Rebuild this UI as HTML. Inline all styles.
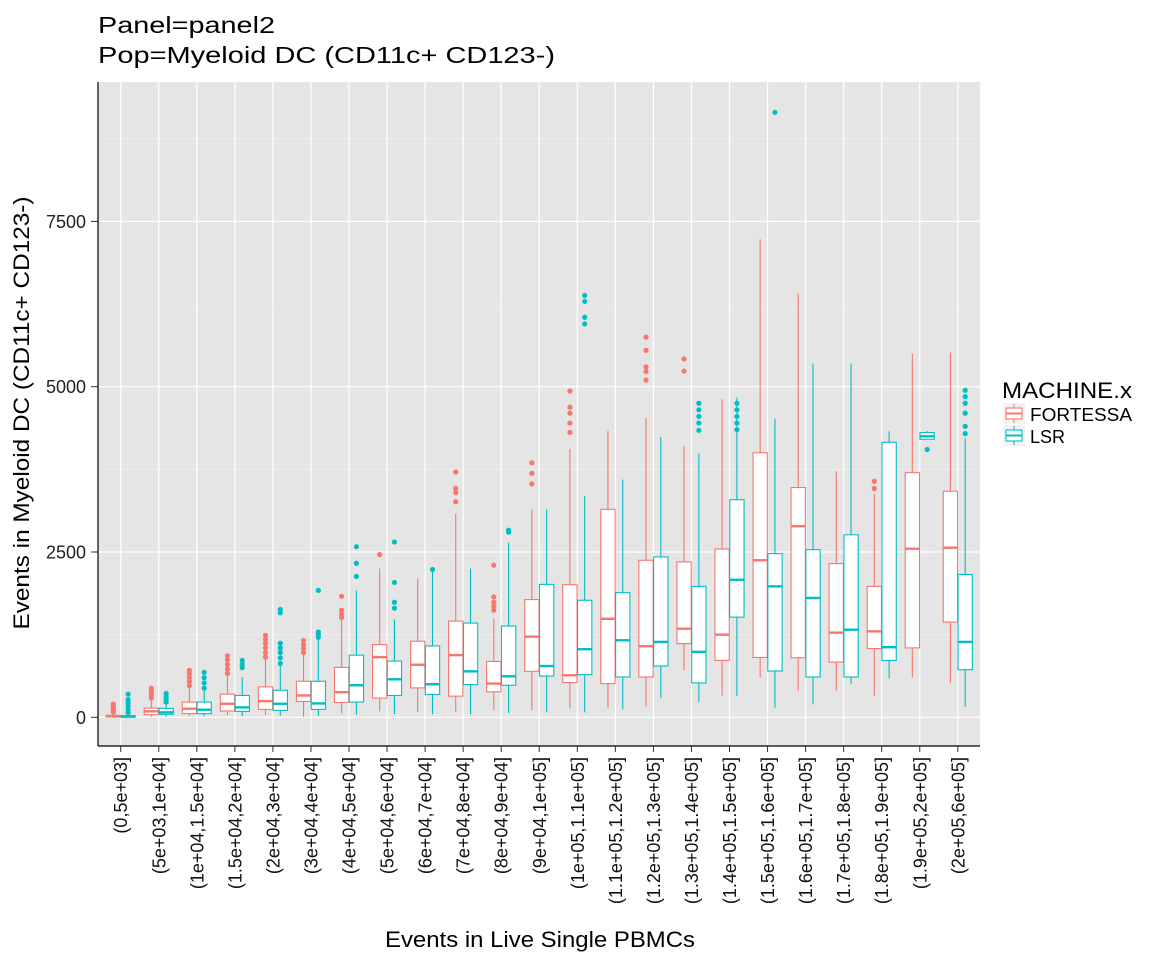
<!DOCTYPE html>
<html><head><meta charset="utf-8"><style>
body{margin:0;background:#fff;}
svg text{font-family:"Liberation Sans",Arial,sans-serif;}
</style></head><body>
<svg id="chart" width="1152" height="960" xmlns="http://www.w3.org/2000/svg">
<text x="98" y="33" font-size="23" textLength="177" lengthAdjust="spacingAndGlyphs" fill="#000">Panel=panel2</text>
<text x="98" y="63" font-size="23" textLength="457" lengthAdjust="spacingAndGlyphs" fill="#000">Pop=Myeloid DC (CD11c+ CD123-)</text>
<rect x="98" y="82" width="882" height="664" fill="#e5e5e5"/>
<g id="grid"></g><g id="marks"></g><g id="axes"></g>
<text x="540" y="947" font-size="22" text-anchor="middle" textLength="310" lengthAdjust="spacingAndGlyphs" fill="#000">Events in Live Single PBMCs</text>
<text transform="translate(29,413) rotate(-90)" font-size="22" text-anchor="middle" textLength="433" lengthAdjust="spacingAndGlyphs" fill="#000">Events in Myeloid DC (CD11c+ CD123-)</text>
<g>
<text x="1002" y="398" font-size="22" textLength="130" lengthAdjust="spacingAndGlyphs" fill="#000">MACHINE.x</text>
<g>
<rect x="1003" y="403" width="22" height="21" fill="#f2f2f2"/>
<line x1="1014" y1="404" x2="1014" y2="423" stroke="#F8766D" stroke-width="1.1"/>
<rect x="1006" y="408" width="16" height="11" fill="#fff" stroke="#F8766D" stroke-width="1.1"/>
<line x1="1006" y1="413.5" x2="1022" y2="413.5" stroke="#F8766D" stroke-width="2"/>
<text x="1030" y="421" font-size="18" textLength="102" lengthAdjust="spacingAndGlyphs" fill="#000">FORTESSA</text></g>
<g>
<rect x="1003" y="425" width="22" height="21" fill="#f2f2f2"/>
<line x1="1014" y1="426" x2="1014" y2="445" stroke="#00BFC4" stroke-width="1.1"/>
<rect x="1006" y="430" width="16" height="11" fill="#fff" stroke="#00BFC4" stroke-width="1.1"/>
<line x1="1006" y1="435.5" x2="1022" y2="435.5" stroke="#00BFC4" stroke-width="2"/>
<text x="1030" y="443" font-size="18" fill="#000">LSR</text></g>
</g>
</svg>
<script>
const categories=["(0,5e+03]","(5e+03,1e+04]","(1e+04,1.5e+04]","(1.5e+04,2e+04]","(2e+04,3e+04]","(3e+04,4e+04]","(4e+04,5e+04]","(5e+04,6e+04]","(6e+04,7e+04]","(7e+04,8e+04]","(8e+04,9e+04]","(9e+04,1e+05]","(1e+05,1.1e+05]","(1.1e+05,1.2e+05]","(1.2e+05,1.3e+05]","(1.3e+05,1.4e+05]","(1.4e+05,1.5e+05]","(1.5e+05,1.6e+05]","(1.6e+05,1.7e+05]","(1.7e+05,1.8e+05]","(1.8e+05,1.9e+05]","(1.9e+05,2e+05]","(2e+05,6e+05]"];
// [low whisker, q1, median, q3, high whisker]
const fortessaStats=[[0,5,15,30,70],[10,40,90,140,255],[20,55,130,230,460],[30,95,205,350,650],[35,120,245,460,910],[10,240,330,545,1000],[60,225,380,755,1500],[90,290,910,1100,2250],[80,445,795,1150,2100],[80,320,940,1455,3080],[105,385,510,845,1490],[105,695,1220,1780,3140],[135,525,635,2005,4060],[140,510,1490,3145,4330],[155,610,1075,2375,4530],[710,1115,1340,2350,4100],[330,860,1250,2545,4810],[600,905,2375,4000,7230],[400,900,2890,3475,6410],[400,835,1280,2325,3720],[320,1040,1300,1980,3380],[600,1050,2550,3700,5500],[520,1440,2565,3420,5515]];
const lsrStats=[[0,5,10,25,60],[15,45,75,135,215],[15,55,115,230,440],[20,90,150,330,610],[25,105,205,410,815],[20,120,210,545,1210],[40,230,485,940,1920],[50,330,575,850,1480],[45,345,500,1080,2235],[45,495,695,1425,2250],[65,485,620,1380,2640],[75,625,775,2010,3145],[75,645,1030,1770,3345],[120,610,1165,1885,3595],[290,775,1140,2425,4240],[230,520,990,1980,3990],[320,1515,2080,3290,4835],[145,700,1980,2475,4520],[195,610,1805,2535,5350],[500,610,1325,2760,5350],[585,860,1060,4160,4325],[4205,4205,4250,4305,4330],[155,720,1140,2160,4220]];
const fortessaOutliers=[[80,110,140,170,200],[290,330,370,410,440],[480,540,600,660,710],[665,730,800,870,930],[910,980,1050,1120,1180,1240],[980,1040,1100,1160],[1510,1560,1620,1830],[2460],[],[3260,3400,3460,3710],[1620,1680,1740,1820,2300],[3530,3690,3850],[4310,4450,4600,4690,4935],[],[5100,5230,5300,5550,5750],[5235,5420],[],[],[],[],[3460,3570],[],[]];
const lsrOutliers=[[70,120,170,220,270,350],[230,270,310,360],[440,520,600,680],[750,800,860],[815,900,980,1050,1120,1580,1630],[1210,1250,1290,1920],[2130,2330,2580],[1650,1740,2040,2650],[2235],[],[2800,2830],[],[5950,6050,6290,6380],[],[],[4340,4450,4550,4650,4750],[4350,4450,4550,4650,4750],[9150],[],[],[],[4050],[4290,4400,4600,4750,4850,4945]];
const yTicks=[0,2500,5000,7500];
const yMinor=[1250,3750,6250,8750];

const NS="http://www.w3.org/2000/svg";
const y=v=>717.3-v*165.3/2500;
const x=i=>120.7+i*38.05;
function mk(tag,attrs,parent){const e=document.createElementNS(NS,tag);for(const k in attrs)e.setAttribute(k,attrs[k]);parent.appendChild(e);return e;}
const grid=document.getElementById('grid'),marks=document.getElementById('marks'),axes=document.getElementById('axes');
yMinor.forEach(v=>{const l=mk('line',{x1:98,x2:980,y1:y(v),y2:y(v),stroke:'#f2f2f2','stroke-width':0.6},grid);

});
yTicks.forEach(v=>{const l=mk('line',{x1:98,x2:980,y1:y(v),y2:y(v),stroke:'#fff','stroke-width':1.2},grid);


const t=mk('text',{x:86,y:y(v)+6.5,'font-size':18,'text-anchor':'end',fill:'#222'},axes);t.textContent=v;


mk('line',{x1:91,x2:98,y1:y(v),y2:y(v),stroke:'#333','stroke-width':1},axes);});
categories.forEach((c,i)=>{const l=mk('line',{x1:x(i),x2:x(i),y1:82,y2:746,stroke:'#fff','stroke-width':1.2},grid);


mk('line',{x1:x(i),x2:x(i),y1:746,y2:752,stroke:'#333','stroke-width':1},axes);
const t=mk('text',{transform:`translate(${x(i)+6.5},757) rotate(-90)`,'font-size':18,'text-anchor':'end',fill:'#111'},axes);t.textContent=c;

});
function drawBox(s,outs,cx,col,name){const g=mk('g',{},marks);


const w=14.3,l=cx-w/2,mid=cx;
mk('line',{x1:mid,x2:mid,y1:y(s[3]),y2:y(s[4]),stroke:col,'stroke-width':1.1},g);
mk('line',{x1:mid,x2:mid,y1:y(s[1]),y2:y(s[0]),stroke:col,'stroke-width':1.1},g);
mk('rect',{x:l,y:y(s[3]),width:w,height:Math.max(0.5,y(s[1])-y(s[3])),fill:'#fff',stroke:col,'stroke-width':1.1},g);
mk('line',{x1:l,x2:l+w,y1:y(s[2]),y2:y(s[2]),stroke:col,'stroke-width':2.4},g);
outs.forEach(o=>mk('circle',{cx:mid,cy:y(o),r:2.6,fill:col},g));}
categories.forEach((c,i)=>{
drawBox(fortessaStats[i],fortessaOutliers[i],x(i)-7.4,'#F8766D','box-fortessa-'+i);
drawBox(lsrStats[i],lsrOutliers[i],x(i)+7.4,'#00BFC4','box-lsr-'+i);});
mk('line',{x1:98,x2:98,y1:82,y2:746,stroke:'#000','stroke-width':1.2},axes);
mk('line',{x1:98,x2:980,y1:746,y2:746,stroke:'#000','stroke-width':1.2},axes);
</script>
</body></html>
